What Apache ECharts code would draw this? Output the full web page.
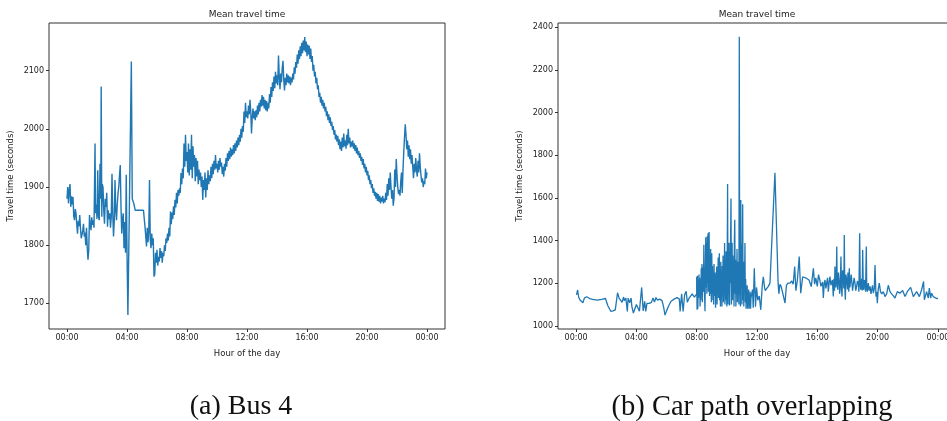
<!DOCTYPE html>
<html>
<head>
<meta charset="utf-8">
<title>Mean travel time</title>
<script src="https://cdn.jsdelivr.net/npm/echarts@6/dist/echarts.min.js"></script>
<style>
  html, body { margin: 0; padding: 0; background: #fff; }
  #chart { width: 947px; height: 421px; }
</style>
</head>
<body>
<div id="chart"></div>
<script>
// Hour-of-day tick positions shared by both panels
const hourTicks = [0, 4, 8, 12, 16, 20, 24];
const busTicks = [1700, 1800, 1900, 2000, 2100];
const carTicks = [1000, 1200, 1400, 1600, 1800, 2000, 2200, 2400];

const panelTitles = ['Mean travel time', 'Mean travel time'];
const panelCaptions = ['(a) Bus 4', '(b) Car path overlapping'];

// Bus 4: [hour, mean travel time in seconds]
const bus4Points = [
  [0,1880],[0.05,1900],[0.1,1872],[0.15,1895],[0.2,1905],[0.25,1866],[0.3,1884],[0.35,1870],[0.4,1883],[0.45,1850],[0.5,1843],[0.55,1862],[0.6,1855],[0.65,1836],[0.7,1820],[0.75,1842],[0.8,1833],[0.85,1852],[0.9,1828],[0.95,1812],
  [1,1809],[1.05,1825],[1.1,1837],[1.15,1815],[1.2,1822],[1.25,1800],[1.3,1830],[1.35,1795],[1.4,1775],[1.45,1792],[1.5,1852],[1.55,1835],[1.6,1826],[1.65,1848],[1.7,1835],[1.75,1843],[1.8,1830],[1.87,1975],[1.9,1855],[1.95,1870],
  [2,1845],[2.05,1929],[2.1,1850],[2.15,1843],[2.2,1940],[2.25,1880],[2.28,2073],[2.32,1849],[2.35,1905],[2.4,1900],[2.45,1860],[2.5,1837],[2.55,1880],[2.6,1866],[2.65,1890],[2.7,1832],[2.75,1860],[2.8,1845],[2.85,1855],[2.9,1830],[2.95,1848],
  [3,1923],[3.05,1855],[3.1,1815],[3.15,1840],[3.2,1912],[3.25,1860],[3.3,1843],[3.35,1870],[3.4,1889],[3.45,1900],[3.5,1920],[3.55,1938],[3.6,1866],[3.65,1820],[3.7,1845],[3.75,1855],[3.8,1795],[3.85,1840],[3.9,1787],[3.95,1921],
  [4.0,1790],[4.06,1680],[4.29,2116],[4.35,1880],[4.45,1872],[4.55,1860],[5.1,1860],[5.15,1845],[5.2,1832],[5.25,1815],[5.3,1798],[5.35,1830],[5.4,1805],[5.45,1822],[5.5,1912],[5.55,1810],[5.6,1795],[5.65,1820],[5.7,1800],[5.75,1812],[5.8,1746],[5.85,1750],[5.9,1787],[5.95,1770],
  [6.0,1792],[6.05,1765],[6.1,1780],[6.15,1772],[6.2,1795],[6.25,1778],[6.3,1790],[6.35,1770],[6.4,1787],[6.45,1781],[6.5,1800],[6.55,1790],[6.6,1812],[6.65,1804],[6.7,1820],[6.75,1808],[6.8,1830],[6.85,1815],[6.9,1858],[6.95,1836],
  [7.0,1856],[7.05,1845],[7.1,1867],[7.15,1852],[7.2,1878],[7.25,1865],[7.3,1890],[7.35,1872],[7.4,1895],[7.45,1885],[7.5,1898],[7.55,1890],[7.6,1924],[7.65,1905],[7.7,1932],[7.75,1915],[7.8,1975],[7.85,1935],[7.9,1990],[7.95,1945],
  [8.0,1960],[8.05,1925],[8.1,1975],[8.15,1920],[8.2,1965],[8.25,1930],[8.3,1990],[8.35,1915],[8.4,1970],[8.45,1935],[8.5,1955],[8.55,1910],[8.6,1950],[8.65,1918],[8.7,1945],[8.75,1905],[8.8,1930],[8.85,1912],[8.9,1925],[8.95,1900],
  [9.0,1918],[9.05,1878],[9.1,1912],[9.15,1895],[9.2,1925],[9.25,1882],[9.3,1915],[9.35,1895],[9.4,1929],[9.45,1905],[9.5,1920],[9.55,1910],[9.6,1935],[9.65,1915],[9.7,1940],[9.75,1922],[9.8,1945],[9.85,1930],[9.9,1955],[9.95,1932],
  [10.0,1940],[10.05,1925],[10.1,1945],[10.15,1930],[10.2,1950],[10.25,1935],[10.3,1942],[10.35,1922],[10.4,1935],[10.45,1918],[10.5,1940],[10.55,1928],[10.6,1950],[10.65,1935],[10.7,1958],[10.75,1945],[10.8,1962],[10.85,1948],[10.9,1968],[10.95,1952],
  [11.0,1965],[11.05,1955],[11.1,1972],[11.15,1958],[11.2,1975],[11.25,1962],[11.3,1980],[11.35,1968],[11.4,1985],[11.45,1972],[11.5,1990],[11.55,1978],[11.6,2000],[11.65,1985],[11.7,2005],[11.75,1995],[11.8,2030],[11.85,2010],[11.9,2045],[11.95,2020],
  [12.0,2030],[12.05,2018],[12.1,2040],[12.15,2025],[12.2,2050],[12.25,2030],[12.3,1992],[12.35,2020],[12.4,2035],[12.45,2018],[12.5,2030],[12.55,2015],[12.6,2032],[12.65,2020],[12.7,2040],[12.75,2025],[12.8,2045],[12.85,2030],[12.9,2050],[12.95,2038],
  [13.0,2058],[13.05,2040],[13.1,2055],[13.15,2035],[13.2,2050],[13.25,2032],[13.3,2048],[13.35,2030],[13.4,2045],[13.45,2035],[13.5,2060],[13.55,2045],[13.6,2072],[13.65,2055],[13.7,2080],[13.75,2065],[13.8,2090],[13.85,2070],[13.9,2098],[13.95,2078],
  [14.0,2092],[14.05,2075],[14.1,2126],[14.15,2090],[14.2,2068],[14.25,2095],[14.3,2080],[14.35,2105],[14.4,2117],[14.45,2085],[14.5,2066],[14.55,2088],[14.6,2075],[14.65,2095],[14.7,2080],[14.75,2092],[14.8,2078],[14.85,2090],[14.9,2075],[14.95,2088],
  [15.0,2080],[15.05,2095],[15.1,2085],[15.15,2106],[15.2,2095],[15.25,2115],[15.3,2105],[15.35,2128],[15.4,2112],[15.45,2135],[15.5,2120],[15.55,2142],[15.6,2125],[15.65,2148],[15.7,2130],[15.75,2152],[15.8,2135],[15.85,2158],[15.9,2132],[15.95,2150],
  [16.0,2125],[16.05,2145],[16.1,2128],[16.15,2143],[16.2,2120],[16.25,2138],[16.3,2115],[16.35,2125],[16.4,2100],[16.45,2110],[16.5,2090],[16.55,2098],[16.6,2078],[16.65,2088],[16.7,2068],[16.75,2075],[16.8,2055],[16.85,2062],[16.9,2045],[16.95,2055],
  [17.0,2040],[17.05,2050],[17.1,2035],[17.15,2045],[17.2,2030],[17.25,2038],[17.3,2022],[17.35,2030],[17.4,2015],[17.45,2025],[17.5,2010],[17.55,2020],[17.6,2005],[17.65,2012],[17.7,1998],[17.75,2005],[17.8,1990],[17.85,1998],[17.9,1982],[17.95,1990],
  [18.0,1978],[18.05,1988],[18.1,1972],[18.15,1982],[18.2,1965],[18.25,1978],[18.3,1962],[18.35,1985],[18.4,1968],[18.45,1992],[18.5,1970],[18.55,1980],[18.6,1966],[18.65,1990],[18.7,1972],[18.75,2000],[18.8,1975],[18.85,1985],[18.9,1968],[18.95,1978],
  [19.0,1970],[19.05,1980],[19.1,1966],[19.15,1975],[19.2,1962],[19.25,1972],[19.3,1958],[19.35,1968],[19.4,1955],[19.45,1962],[19.5,1950],[19.55,1958],[19.6,1945],[19.65,1952],[19.7,1938],[19.75,1948],[19.8,1932],[19.85,1940],[19.9,1925],[19.95,1935],
  [20.0,1920],[20.05,1928],[20.1,1912],[20.15,1920],[20.2,1905],[20.25,1912],[20.3,1898],[20.35,1905],[20.4,1890],[20.45,1898],[20.5,1885],[20.55,1892],[20.6,1880],[20.65,1890],[20.7,1876],[20.75,1888],[20.8,1875],[20.85,1885],[20.9,1872],[20.95,1882],
  [21.0,1875],[21.05,1885],[21.1,1872],[21.15,1880],[21.2,1874],[21.25,1890],[21.3,1878],[21.35,1905],[21.4,1885],[21.45,1915],[21.5,1895],[21.55,1925],[21.6,1900],[21.65,1880],[21.7,1895],[21.75,1868],[21.8,1880],[21.85,1930],[21.9,1900],[21.95,1948],
  [22.0,1920],[22.05,1900],[22.1,1888],[22.15,1895],[22.2,1885],[22.25,1910],[22.3,1925],[22.35,1890],[22.4,1930],[22.45,1960],[22.5,1985],[22.55,2008],[22.6,1990],[22.65,1965],[22.7,1980],[22.75,1952],[22.8,1972],[22.85,1948],[22.9,1965],[22.95,1940],
  [23.0,1955],[23.05,1935],[23.1,1915],[23.15,1940],[23.2,1925],[23.25,1950],[23.3,1930],[23.35,1918],[23.4,1945],[23.45,1925],[23.5,1958],[23.55,1935],[23.6,1920],[23.65,1908],[23.7,1915],[23.75,1900],[23.8,1910],[23.85,1905],[23.9,1932],[23.95,1915],[24.0,1925]
];

// Car path overlapping: night and early morning, [hour, seconds]
const carEarly = [
  [0.03,1145],[0.1,1168],[0.17,1135],[0.25,1122],[0.35,1115],[0.45,1108],[0.55,1130],[0.7,1136],[0.9,1128],[1.1,1124],[1.4,1120],[1.7,1124],[1.95,1128],
  [2.1,1095],[2.3,1068],[2.45,1070],[2.6,1075],[2.75,1155],[2.85,1130],[2.95,1120],[3.05,1110],[3.15,1135],[3.2,1118],[3.3,1130],[3.4,1067],[3.45,1130],
  [3.55,1108],[3.65,1130],[3.7,1090],[3.8,1060],[3.9,1055],[4.0,1100],[4.1,1085],[4.2,1068],[4.35,1180],[4.45,1070],[4.55,1115],[4.62,1067],[4.7,1105],
  [4.85,1105],[5.0,1110],[5.1,1130],[5.2,1112],[5.3,1133],[5.4,1120],[5.55,1125],[5.7,1118],[5.8,1090],[5.9,1050],[6.0,1070],[6.05,1075],[6.15,1095],
  [6.3,1115],[6.5,1125],[6.7,1132],[6.85,1125],[6.9,1067],[7.0,1150],[7.1,1067],[7.2,1146],[7.3,1162],[7.38,1110],[7.5,1130],[7.7,1150],[7.85,1135],[8.0,1150]
];

// Morning rush, sampled every 1.5 minutes from 08:00 to 11:36
const carRushStart = 8.0;
const carRushStep = 0.025;
const carRushValues = [
  1230,1075,1235,1080,1200,1130,1240,1150,1225,1090,1180,1120,1270,1150,1290,1110,1230,1275,1160,1380,
  1200,1140,1068,1250,1415,1180,1388,1150,1420,1200,1434,1160,1320,1440,1140,1260,1150,1360,1190,1110,
  1340,1150,1280,1120,1230,1100,1290,1180,1140,1250,1085,1210,1160,1278,1100,1240,1170,1320,1130,1220,
  1340,1120,1250,1090,1300,1160,1210,1090,1280,1140,1330,1110,1240,1170,1388,1100,1260,1120,1350,1200,
  1090,1320,1665,1100,1280,1150,1390,1095,1300,1200,1420,1597,1100,1250,1390,1120,1330,1180,1260,1090,
  1400,1497,1150,1310,1090,1280,1200,1360,1110,1300,1180,1240,1100,2356,1150,1300,1090,1590,1200,1380,
  1100,1280,1570,1120,1250,1090,1300,1180,1388,1110,1220,1080,1180,1130,1190,1080,1150,1110,1170,1080,
  1140,1100,1160,1080,1130
];

// Midday through midnight, [hour, seconds]
const carLate = [
  [11.7,1170],[11.75,1085],[11.82,1270],[11.9,1090],[11.97,1180],[12.05,1120],[12.15,1140],[12.25,1075],[12.35,1190],[12.42,1230],[12.5,1180],
  [12.55,1165],[12.65,1175],[12.75,1185],[12.86,1200],[13.19,1718],[13.4,1200],[13.45,1150],[13.52,1195],[13.6,1185],[13.7,1190],[13.86,1107],
  [13.95,1190],[14.05,1200],[14.19,1200],[14.3,1210],[14.4,1195],[14.5,1278],[14.58,1165],[14.68,1215],[14.8,1325],[14.9,1153],[15.03,1230],
  [15.15,1225],[15.3,1222],[15.45,1215],[15.6,1184],[15.74,1270],[15.82,1195],[15.9,1225],[16.0,1185],[16.08,1240],
  [16.18,1210],[16.24,1185],[16.29,1180],[16.35,1205],[16.4,1130],[16.46,1200],[16.51,1215],[16.57,1175],[16.62,1200],[16.68,1225],[16.73,1160],
  [16.79,1205],[16.84,1231],[16.9,1190],[16.95,1185],[17.0,1215],[17.06,1137],[17.1,1220],[17.14,1165],[17.17,1278],[17.22,1180],[17.26,1230],
  [17.29,1372],[17.32,1190],[17.35,1169],[17.4,1250],[17.44,1215],[17.48,1150],[17.51,1169],[17.54,1240],[17.57,1325],[17.6,1180],[17.64,1137],
  [17.68,1260],[17.73,1231],[17.76,1175],[17.79,1426],[17.82,1190],[17.86,1122],[17.9,1240],[17.95,1215],[18.0,1170],[18.03,1250],[18.06,1200],
  [18.09,1160],[18.12,1270],[18.16,1180],[18.21,1185],[18.25,1240],[18.3,1231],[18.34,1165],[18.39,1169],[18.44,1225],[18.5,1200],[18.55,1165],
  [18.61,1185],[18.66,1210],[18.72,1200],[18.76,1160],[18.81,1434],[18.85,1190],[18.88,1169],[18.94,1220],[18.98,1165],[19.01,1356],[19.05,1180],
  [19.08,1169],[19.12,1215],[19.16,1200],[19.2,1160],[19.25,1372],[19.28,1175],[19.32,1160],[19.38,1200],[19.44,1165],[19.5,1185],[19.56,1150],
  [19.61,1169],[19.66,1190],[19.72,1153],[19.78,1175],[19.83,1285],[19.89,1137],[19.94,1160],[19.98,1106],[20.04,1170],[20.11,1200],[20.19,1160],
  [20.27,1150],[20.38,1160],[20.49,1137],[20.6,1150],[20.71,1190],[20.82,1160],[20.93,1150],[21.05,1140],[21.15,1130],[21.31,1160],[21.48,1153],
  [21.66,1166],[21.82,1137],[21.97,1160],[22.19,1180],[22.37,1137],[22.59,1160],[22.77,1137],[22.92,1169],[23.05,1208],[23.1,1122],[23.25,1160],
  [23.36,1130],[23.43,1177],[23.52,1130],[23.58,1153],[23.69,1137],[23.8,1130],[23.9,1128],[24.0,1128]
];

const carPoints = carEarly
  .concat(carRushValues.map((v, i) => [carRushStart + i * carRushStep, v]))
  .concat(carLate);

const LINE_COLOR = '#1f77b4';
const FRAME_COLOR = '#333';
const TEXT_COLOR = '#222';
const FONT = 'DejaVu Sans';

function pad2(n) { return (n < 10 ? '0' : '') + n; }

function hourAxis(gridIndex) {
  return {
    type: 'value', gridIndex: gridIndex,
    min: -1.2, max: 25.2,
    name: 'Hour of the day', nameLocation: 'middle', nameGap: 20,
    nameTextStyle: { fontFamily: FONT, fontSize: 8.5, color: TEXT_COLOR },
    axisLine: { show: false, onZero: false },
    axisTick: { show: true, inside: false, length: 3, customValues: hourTicks,
                lineStyle: { color: FRAME_COLOR, width: 1 } },
    axisLabel: { customValues: hourTicks, margin: 5, fontFamily: FONT, fontSize: 8,
                 color: TEXT_COLOR, formatter: v => pad2(Math.round(v) % 24) + ':00' },
    splitLine: { show: false }
  };
}

function valueAxis(gridIndex, min, max, ticks) {
  return {
    type: 'value', gridIndex: gridIndex, min: min, max: max,
    name: 'Travel time (seconds)', nameLocation: 'middle', nameGap: 34, nameRotate: 90,
    nameTextStyle: { fontFamily: FONT, fontSize: 8.5, color: TEXT_COLOR },
    axisLine: { show: false, onZero: false },
    axisTick: { show: true, inside: false, length: 3, customValues: ticks,
                lineStyle: { color: FRAME_COLOR, width: 1 } },
    axisLabel: { customValues: ticks, margin: 5, fontFamily: FONT, fontSize: 8,
                 color: TEXT_COLOR, formatter: v => String(Math.round(v)) },
    splitLine: { show: false }
  };
}

const chart = echarts.init(document.getElementById('chart'), null, { renderer: 'canvas' });

chart.setOption({
  animation: false,
  backgroundColor: '#fff',
  title: [
    { text: panelTitles[0], left: 247, top: 10, textAlign: 'center', padding: 0,
      textStyle: { fontFamily: FONT, fontSize: 9, fontWeight: 'normal', color: TEXT_COLOR } },
    { text: panelTitles[1], left: 757, top: 10, textAlign: 'center', padding: 0,
      textStyle: { fontFamily: FONT, fontSize: 9, fontWeight: 'normal', color: TEXT_COLOR } },
    { text: panelCaptions[0], left: 241, top: 393, textAlign: 'center', padding: 0,
      textStyle: { fontFamily: 'Liberation Serif', fontSize: 28, fontWeight: 'normal', color: '#111' } },
    { text: panelCaptions[1], left: 752, top: 393, textAlign: 'center', padding: 0,
      textStyle: { fontFamily: 'Liberation Serif', fontSize: 28.5, fontWeight: 'normal', color: '#111' } }
  ],
  // The right panel's frame runs past the page edge; keep its size fixed
  grid: [
    { left: 49, top: 23, width: 396, height: 306, show: true, outerBoundsMode: 'none',
      borderColor: FRAME_COLOR, borderWidth: 1, backgroundColor: 'transparent' },
    { left: 558, top: 23, width: 398, height: 306, show: true, outerBoundsMode: 'none',
      borderColor: FRAME_COLOR, borderWidth: 1, backgroundColor: 'transparent' }
  ],
  xAxis: [hourAxis(0), hourAxis(1)],
  yAxis: [valueAxis(0, 1656, 2182, busTicks), valueAxis(1, 985, 2420, carTicks)],
  series: [
    { name: 'Bus 4', type: 'line', xAxisIndex: 0, yAxisIndex: 0, data: bus4Points,
      showSymbol: false, lineStyle: { color: LINE_COLOR, width: 1.4 } },
    { name: 'Car path overlapping', type: 'line', xAxisIndex: 1, yAxisIndex: 1, data: carPoints,
      showSymbol: false, lineStyle: { color: LINE_COLOR, width: 1.3 } }
  ]
});
</script>
</body>
</html>
